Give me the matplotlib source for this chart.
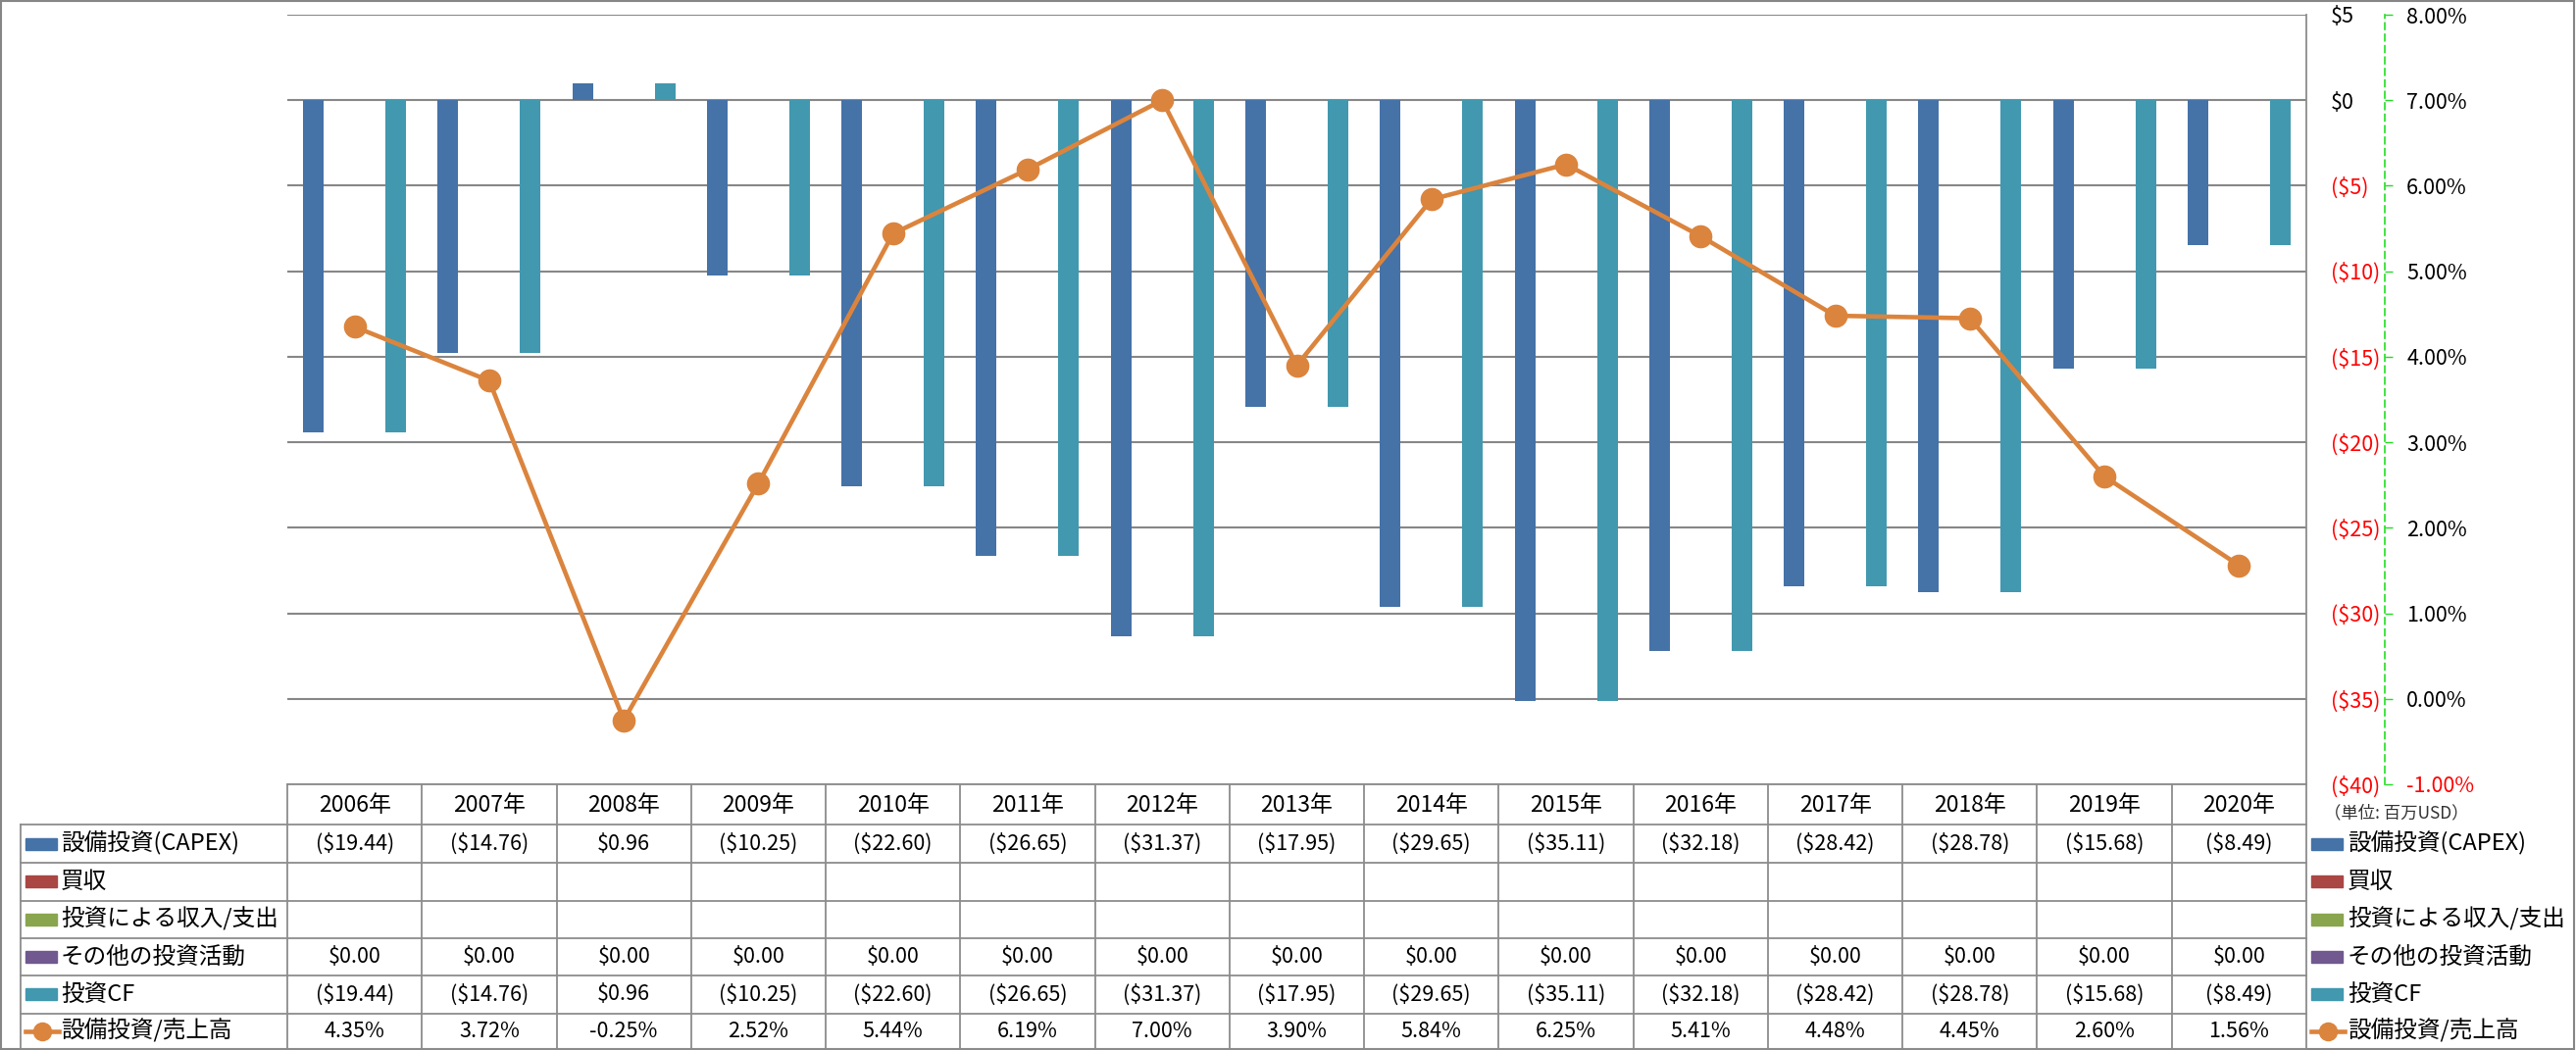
import numpy as np
import matplotlib.pyplot as plt
import matplotlib.transforms as mtransforms
from matplotlib.lines import Line2D
from matplotlib.patches import Rectangle

plt.rcParams['font.family'] = ['Noto Sans CJK JP', 'DejaVu Sans']
plt.rcParams['text.parse_math'] = False

# data
years = ['2006年', '2007年', '2008年', '2009年', '2010年', '2011年', '2012年', '2013年',
         '2014年', '2015年', '2016年', '2017年', '2018年', '2019年', '2020年']
capex = [-19.44, -14.76, 0.96, -10.25, -22.60, -26.65, -31.37, -17.95,
         -29.65, -35.11, -32.18, -28.42, -28.78, -15.68, -8.49]
acquisition = [np.nan] * 15
invest_income = [np.nan] * 15
other_invest = [0.0] * 15
invest_cf = [-19.44, -14.76, 0.96, -10.25, -22.60, -26.65, -31.37, -17.95,
             -29.65, -35.11, -32.18, -28.42, -28.78, -15.68, -8.49]
capex_ratio = [4.35, 3.72, -0.25, 2.52, 5.44, 6.19, 7.00, 3.90,
               5.84, 6.25, 5.41, 4.48, 4.45, 2.60, 1.56]

series_names = ['設備投資(CAPEX)', '買収', '投資による収入/支出', 'その他の投資活動', '投資CF', '設備投資/売上高']
colors = ['#4572A7', '#AA4643', '#89A54E', '#71588F', '#4198AF', '#DB843D']
usd_ticks = [5, 0, -5, -10, -15, -20, -25, -30, -35, -40]
pct_ticks = [8, 7, 6, 5, 4, 3, 2, 1, 0, -1]

W, H = 2627, 1071
fs = 15.5       # tick labels / table numbers
fs_lab = 17     # series labels
fs_head = 16.5  # year header
grid_c = '#878787'


def fx(x):
    return x / W


def fy(y):
    return 1 - y / H


def fmt_usd(v):
    if np.isnan(v):
        return ''
    return f'(${abs(v):.2f})' if v < 0 else f'${v:.2f}'


fig = plt.figure(figsize=(W / 100, H / 100), dpi=100)
ax = fig.add_axes([fx(293), fy(800), fx(2352) - fx(293), fy(15) - fy(800)])
ax2 = ax.twinx()

n = len(years)
x = np.arange(n)
bw = 0.153
bar_series = [capex, acquisition, invest_income, other_invest, invest_cf]
for i, vals in enumerate(bar_series):
    ax.bar(x + (i - 2) * bw, vals, width=bw, color=colors[i], zorder=2)

ax.set_xlim(-0.5, n - 0.5)
ax.set_ylim(-40, 5)
ax.set_xticks([])
ax.set_yticks(usd_ticks, [f'${v}' if v >= 0 else f'(${-v})' for v in usd_ticks])
ax.yaxis.tick_right()
ax.tick_params(axis='y', length=0, pad=18, labelsize=fs)
for lab, v in zip(ax.get_yticklabels(), usd_ticks):
    if v < 0:
        lab.set_color('red')
ax.grid(axis='y', color=grid_c, lw=1.5, zorder=0)
for s in ax.spines.values():
    s.set_visible(False)

ax2.plot(x, capex_ratio, color=colors[5], lw=3.3, marker='o', ms=16, zorder=3)
ax2.set_ylim(-1, 8)
ax2.set_yticks(pct_ticks, [f'{v:.2f}%' for v in pct_ticks])
for s in ['top', 'left', 'bottom']:
    ax2.spines[s].set_visible(False)
ax2.spines['right'].set_position(('outward', 57.6))
ax2.spines['right'].set_color('#22DD22')
ax2.spines['right'].set_linestyle((0, (4, 3)))
ax2.spines['right'].set_linewidth(1.2)
ax2.tick_params(axis='y', direction='out', length=6, width=1, color='#22DD22', pad=10, labelsize=fs)
for lab, v in zip(ax2.get_yticklabels(), pct_ticks):
    if v < 0:
        lab.set_color('red')

fig.text(fx(2370), fy(829), '（単位: 百万USD）', fontsize=12.5, color='#333333', va='center', ha='left')

# data table below the plot
tr = mtransforms.blended_transform_factory(ax.transData, fig.transFigure)
row_lines = [841, 880, 918.5, 957, 995, 1033.5, 1070]
row_centers = [(row_lines[k] + row_lines[k + 1]) / 2 for k in range(6)]
lc = '#8C8C8C'

fig.add_artist(Line2D([fx(293), fx(2352)], [fy(800), fy(800)], color=lc, lw=1.3))
for yl in row_lines:
    fig.add_artist(Line2D([fx(21), fx(2352)], [fy(yl), fy(yl)], color=lc, lw=1.3))
fig.add_artist(Line2D([fx(21), fx(21)], [fy(841), fy(1070)], color=lc, lw=1.3))
for k in range(n):
    ax.add_artist(Line2D([k - 0.5, k - 0.5], [fy(800), fy(1070)], color=lc, lw=1.3,
                         transform=tr, clip_on=False))
fig.add_artist(Line2D([fx(2352), fx(2352)], [fy(15), fy(1070)], color=lc, lw=1.3))

for k, yr in enumerate(years):
    ax.text(k, fy(821), yr, transform=tr, ha='center', va='center', fontsize=fs_head)

table_rows = [[fmt_usd(v) for v in capex],
              [fmt_usd(v) for v in acquisition],
              [fmt_usd(v) for v in invest_income],
              [fmt_usd(v) for v in other_invest],
              [fmt_usd(v) for v in invest_cf],
              [f'{v:.2f}%' for v in capex_ratio]]
for r, cells in enumerate(table_rows):
    yc = fy(row_centers[r])
    for k, txt in enumerate(cells):
        ax.text(k, yc, txt, transform=tr, ha='center', va='center', fontsize=fs)


def legend_key(x0, yc, i):
    if i < 5:
        fig.add_artist(Rectangle((fx(x0), fy(yc + 6)), 32 / W, 12 / H,
                                 color=colors[i], transform=fig.transFigure))
    else:
        fig.add_artist(Line2D([fx(x0), fx(x0 + 34)], [fy(yc), fy(yc)], color=colors[i],
                              lw=3.3, transform=fig.transFigure))
        fig.add_artist(Line2D([fx(x0 + 17)], [fy(yc)], color=colors[i], marker='o', ms=13,
                              lw=0, transform=fig.transFigure))


for i, name in enumerate(series_names):
    yc = row_centers[i]
    legend_key(26, yc, i)
    fig.text(fx(62), fy(yc), name, fontsize=fs_lab, va='center', ha='left')
    legend_key(2357, yc, i)
    fig.text(fx(2394), fy(yc), name, fontsize=fs_lab, va='center', ha='left')

fig.add_artist(Rectangle((fx(1), fy(1070)), fx(2624), fy(1) - fy(1070), fill=False,
                         edgecolor='#868686', lw=1.5, transform=fig.transFigure))

fig.savefig('out.png', dpi=100)
